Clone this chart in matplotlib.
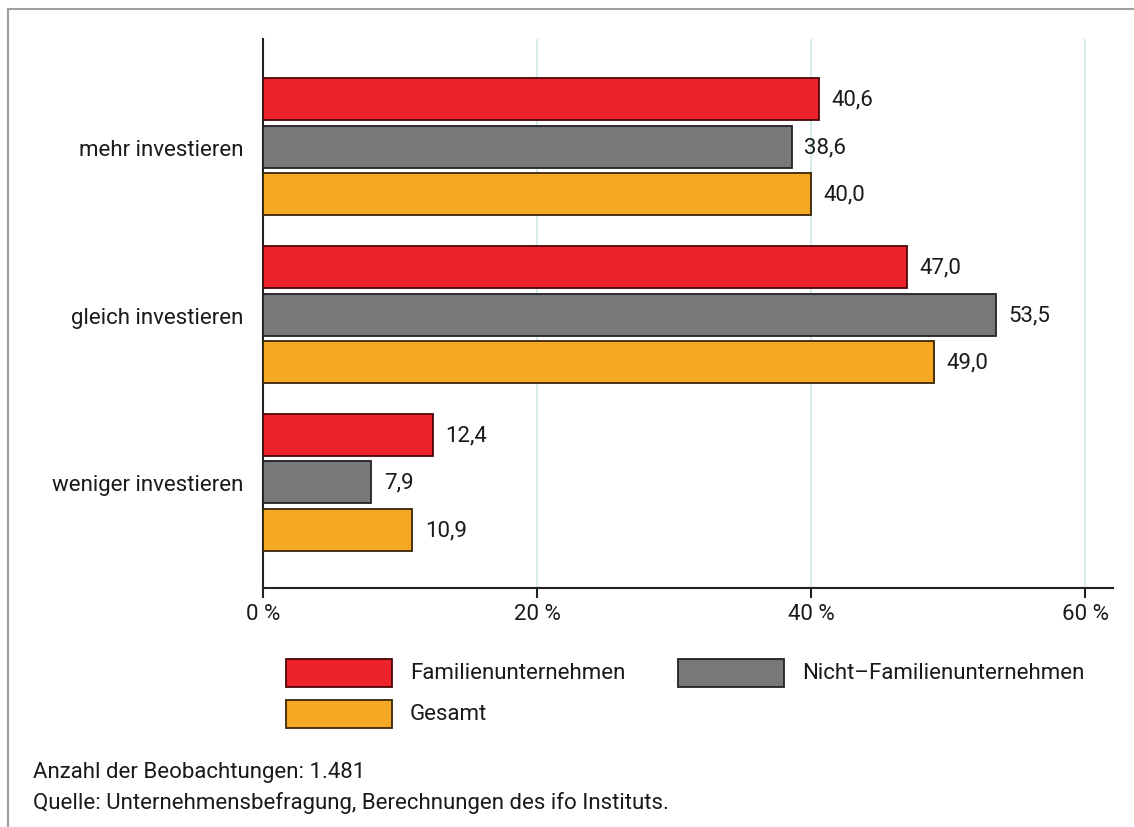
import matplotlib
matplotlib.use("Agg")
import matplotlib.pyplot as plt
from matplotlib.patches import Rectangle

# Daten (Anteile in %)
categories = ["mehr investieren", "gleich investieren", "weniger investieren"]
series_names = ["Familienunternehmen", "Nicht\u2013Familienunternehmen", "Gesamt"]
familien = [40.6, 47.0, 12.4]
nicht_familien = [38.6, 53.5, 7.9]
gesamt = [40.0, 49.0, 10.9]
x_ticks = [0, 20, 40, 60]

colors = ["#ee2229", "#777978", "#f7a823"]
edges = ["#4a0508", "#222222", "#3a2600"]

plt.rcParams["font.family"] = ["Roboto", "DejaVu Sans"]
FS = 16
W, H = 1134, 828
fig = plt.figure(figsize=(W / 100, H / 100), dpi=100)

# Rahmen
fig.add_artist(Rectangle((8 / W, -0.1), 1.2, (H - 10) / H + 0.1, transform=fig.transFigure,
                         fill=False, edgecolor="#a0a0a0", linewidth=1.5))

ax = fig.add_axes([263 / W, (H - 589) / H, (1113 - 263) / W, (589 - 40) / H])

values = [familien, nicht_familien, gesamt]
offsets = [-0.283, 0.0, 0.283]
for vals, off, c, ec in zip(values, offsets, colors, edges):
    pos = [i + off for i in range(len(categories))]
    bars = ax.barh(pos, vals, height=0.25, color=c, edgecolor=ec, linewidth=1.3, zorder=3)
    for b, v in zip(bars, vals):
        ax.annotate(f"{v:.1f}".replace(".", ","), (b.get_width(), b.get_y() + b.get_height() / 2),
                    xytext=(9, 0), textcoords="offset points", ha="left", va="center",
                    fontsize=FS, color="#1a1a1a")

ax.set_xlim(0, 62.04)
ax.set_ylim(2.63, -0.643)
ax.set_xticks(x_ticks)
ax.set_xticklabels([f"{t} %" for t in x_ticks], fontsize=FS, color="#1a1a1a")
ax.set_yticks(range(len(categories)))
ax.set_yticklabels(categories, fontsize=FS, color="#1a1a1a")
ax.tick_params(axis="y", length=0, pad=14)
ax.tick_params(axis="x", length=7, width=1.5, color="#222222", pad=4)
for t in x_ticks[1:]:
    ax.axvline(t, color="#d6ecec", linewidth=1.5, zorder=1)
for s in ["top", "right"]:
    ax.spines[s].set_visible(False)
for s in ["left", "bottom"]:
    ax.spines[s].set_linewidth(1.5)
    ax.spines[s].set_color("#222222")

# Legende
leg_pos = [(286, 660), (678, 660), (286, 701)]
for (lx, ly), name, c, ec in zip(leg_pos, series_names, colors, edges):
    fig.add_artist(Rectangle((lx / W, 1 - (ly + 28) / H), 106 / W, 28 / H, transform=fig.transFigure,
                             facecolor=c, edgecolor=ec, linewidth=1.3))
    fig.text((lx + 124) / W, 1 - (ly + 14) / H, name, ha="left", va="center",
             fontsize=FS, color="#1a1a1a")

# Fussnote
fig.text(33 / W, 1 - 773 / H, "Anzahl der Beobachtungen: 1.481", ha="left", va="center",
         fontsize=FS, color="#1a1a1a")
fig.text(33 / W, 1 - 803 / H, "Quelle: Unternehmensbefragung, Berechnungen des ifo Instituts.",
         ha="left", va="center", fontsize=FS, color="#1a1a1a")

fig.savefig("out.png", dpi=100)
